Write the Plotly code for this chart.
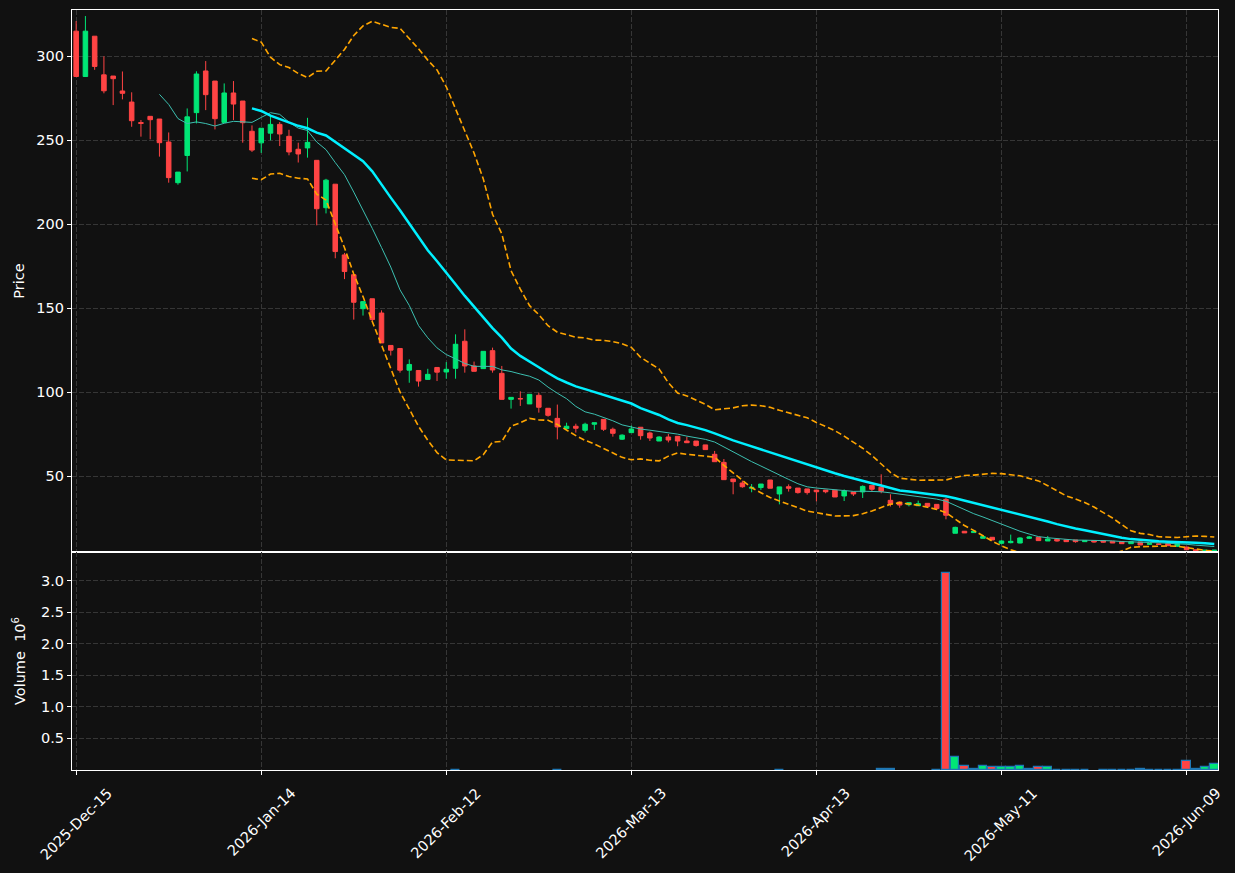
import plotly.graph_objects as go
import pandas as pd

# ---- data ----
opens = [315, 288, 312, 289, 288.3, 279.4, 272.8, 260.6, 264.3, 262.7,
         249, 224.8, 241, 266.5, 291.3, 285.3, 260.7, 278.2, 273.4, 255.4,
         248.5, 254.3, 259.5, 252.4, 244.7, 245.5, 238.1, 209.9, 223.9, 181.8,
         170, 149.8, 155.7, 147.2, 127.9, 126.1, 113.2, 113, 107.7, 114.8,
         112.1, 114.3, 130.4, 115.7, 114.1, 124.8, 111.3, 95.8, 96.3, 93.1,
         98.2, 90.5, 84.5, 78.4, 79.8, 77.4, 81, 83.9, 78, 72.1,
         76, 79.2, 75.8, 71, 73.4, 73.8, 71, 71, 68.7, 63.1,
         58.3, 48.4, 46, 42.9, 43.3, 47.8, 39.5, 43.8, 43, 42.5,
         41.8, 41.8, 41.7, 38.3, 40.7, 40.7, 44.6, 43.5, 35.7, 34.7,
         33.1, 32.5, 33.9, 33.3, 36.3, 16.1, 17.3, 16.5, 13.1, 13.7,
         10.1, 10.5, 10.3, 13.1, 13.7, 11.5, 12.5, 12.1, 12.1, 11.1,
         11.7, 11.7, 11.3, 11.1, 9.9, 10.9, 9.5, 9.8, 10.1, 8.3,
         7.9, 6.3, 5.0, 5.4]
highs = [321, 324, 312, 300, 288.3, 291, 278.6, 262.1, 264.3, 262.7,
         254.7, 231.1, 269, 291.1, 297.2, 285.3, 283.9, 285.3, 273.4, 258.9,
         257.2, 264.8, 260.9, 256.3, 248.6, 263.4, 238.1, 227.1, 223.9, 183,
         170, 154, 155.7, 148.8, 127.9, 126.1, 119.6, 113, 114, 114.8,
         118, 134.5, 137.5, 118.3, 124.4, 126.6, 115.7, 97, 100.6, 98.8,
         99.8, 90.5, 92.7, 81.9, 81.3, 81.9, 81.9, 83.9, 79, 75,
         80.2, 79.2, 76.6, 73.8, 75.2, 73.8, 73.6, 71, 68.7, 65.1,
         60.3, 48.4, 47.4, 45.4, 45.4, 47.8, 43.7, 45.2, 43, 42.5,
         41.8, 41.8, 41.7, 42.2, 40.7, 44.6, 44.6, 51.2, 39.3, 35.1,
         34.3, 35.5, 33.9, 33.3, 37.3, 20, 17.3, 17.3, 14.5, 13.7,
         11.9, 15.3, 13.7, 14.5, 13.7, 14.5, 12.5, 12.1, 12.1, 11.7,
         11.7, 11.7, 11.3, 11.1, 11.1, 10.9, 10.1, 9.9, 10.1, 9.9,
         7.9, 6.3, 6.1, 6.1]
lows = [288, 288, 292, 278, 271, 274.4, 258.1, 252.2, 250.6, 240.3,
        224.8, 223.6, 231.5, 260.1, 268, 256.5, 260.7, 262.1, 248.6, 243.1,
        242.5, 250, 246.6, 241.1, 236.8, 239.7, 199.4, 206.5, 179.8, 167.4,
        143.3, 145.7, 142.3, 129.4, 121.9, 111.7, 105.7, 103.4, 107.7, 106.7,
        108.1, 108.1, 111.7, 112.5, 114.1, 111.7, 95.8, 90.3, 91.9, 93.1,
        87.9, 85.5, 72, 78, 76, 76, 77.6, 77, 73.6, 71.6,
        76, 71.8, 71, 71, 70.2, 67.9, 69.8, 67.7, 65.9, 58.7,
        48, 39.3, 43.2, 40.5, 41.9, 42.9, 33.3, 40.9, 39.7, 39.1,
        35.1, 39.9, 37.7, 35.3, 38.3, 37.1, 40.7, 39.9, 32, 31.3,
        32.1, 32.5, 32.1, 30, 24.4, 16.1, 16.3, 16.5, 13.1, 12.1,
        9.5, 10.1, 10.1, 12.7, 11.7, 11.5, 11.1, 11.1, 10.5, 11.1,
        10.5, 10.5, 10.3, 9.9, 9.9, 9.1, 9.3, 9.2, 8.7, 8.3,
        6.3, 5.5, 4.9, 5.3]
closes = [288, 315, 294, 279.5, 286.7, 278, 261.7, 260.1, 262.3, 248.6,
          227.8, 231.1, 264, 289.5, 277.2, 262.9, 278.2, 271.6, 260.5, 244.2,
          257.2, 259.5, 253.8, 243.1, 241.9, 248.8, 209.3, 226.3, 183.8, 171.9,
          153.6, 154, 143.3, 129.4, 125.1, 113.2, 116.6, 106.7, 110.7, 112,
          113.7, 128.6, 115.7, 112.5, 124.4, 113.3, 95.8, 97, 96.1, 98.8,
          91.1, 86.3, 79.4, 79.8, 78.6, 81, 81.9, 78, 75.6, 74.5,
          78.2, 74.2, 72.8, 73.4, 71.6, 71, 70, 68.3, 65.9, 58.7,
          48, 46.8, 43.8, 43.4, 45.4, 42.9, 43.7, 42.9, 40.3, 40.3,
          40.8, 40.8, 37.7, 41.3, 39.5, 44, 42.3, 41.1, 33.7, 32.9,
          34.3, 33.7, 32.1, 30.8, 26.8, 19.6, 16.3, 17.3, 14.1, 12.1,
          11.5, 11.3, 13.3, 13.9, 11.7, 12.7, 11.5, 11.1, 11.1, 11.7,
          10.9, 10.8, 10.3, 9.9, 11.1, 9.1, 9.9, 9.4, 8.7, 9.9,
          6.3, 5.5, 6.1, 6.0]
# volume in millions (0 = no bar)
volumes = [0] * 41 + [0.004] + [0] * 10 + [0.004] + [0] * 23 + [0.004] + [0] * 10 + \
          [0.02, 0.02, 0, 0, 0, 0, 0.005, 3.12, 0.21, 0.07, 0.02, 0.07, 0.04,
           0.04, 0.05, 0.07, 0.02, 0.04, 0.05, 0.004, 0.004, 0.004, 0.004, 0,
           0.004, 0.004, 0.004, 0.004, 0.02, 0.004, 0.004, 0.004, 0.004,
           0.15, 0.02, 0.05, 0.10]
tick_index = [0, 20, 40, 60, 80, 100, 120]
tick_labels = ["2025-Dec-15", "2026-Jan-14", "2026-Feb-12", "2026-Mar-13",
               "2026-Apr-13", "2026-May-11", "2026-Jun-09"]

# ---- styles ----
BG = "#111111"
UP = "#00e676"
DOWN = "#ff4444"
GRID = "#363636"
TXT = "#ffffff"
FONT = "DejaVu Sans"
FS = 14.5

idx = list(range(len(closes)))
cs = pd.Series(closes, dtype=float)
ma10 = cs.rolling(10).mean()
ma20 = cs.rolling(20).mean()
sd20 = cs.rolling(20).std(ddof=0)
upper = ma20 + 2 * sd20
lower = ma20 - 2 * sd20

fig = go.Figure()
fig.add_trace(go.Candlestick(
    x=idx, open=opens, high=highs, low=lows, close=closes,
    increasing=dict(line=dict(color=UP, width=1), fillcolor=UP),
    decreasing=dict(line=dict(color=DOWN, width=1), fillcolor=DOWN),
    whiskerwidth=0, xaxis="x", yaxis="y", hoverinfo="skip"))
fig.add_trace(go.Scatter(x=idx, y=ma10, mode="lines",
                         line=dict(color="#3cbfb0", width=1), xaxis="x", yaxis="y"))
fig.add_trace(go.Scatter(x=idx, y=ma20, mode="lines",
                         line=dict(color="#00f0ff", width=2.5), xaxis="x", yaxis="y"))
fig.add_trace(go.Scatter(x=idx, y=upper, mode="lines",
                         line=dict(color="#ffa500", width=1.6, dash="6px,3px"), xaxis="x", yaxis="y"))
fig.add_trace(go.Scatter(x=idx, y=lower, mode="lines",
                         line=dict(color="#ffa500", width=1.6, dash="6px,3px"), xaxis="x", yaxis="y"))

vol_y = [v if v > 0 else None for v in volumes]
vol_col = [UP if c >= o else DOWN for o, c in zip(opens, closes)]
fig.add_trace(go.Bar(x=idx, y=vol_y, width=0.92,
                     marker=dict(color=vol_col, line=dict(color="#1f77b4", width=1.2)),
                     xaxis="x2", yaxis="y2"))

axis_common = dict(showgrid=True, gridcolor=GRID, griddash="5px,2px", gridwidth=1,
                   showline=True, mirror=True, linecolor="white", linewidth=1.2,
                   ticks="outside", ticklen=4, tickcolor="white", zeroline=False,
                   tickfont=dict(family=FONT, size=FS, color=TXT))
split = 218 / 760

fig.update_layout(
    width=1235, height=873,
    margin=dict(l=72, r=17, t=10, b=103),
    paper_bgcolor=BG, plot_bgcolor=BG, showlegend=False,
    font=dict(family=FONT, size=FS, color=TXT),
    xaxis=dict(domain=[0, 1], anchor="y", range=[-0.45, 123.4],
               tickvals=tick_index, showticklabels=False,
               rangeslider=dict(visible=False), **axis_common),
    yaxis=dict(domain=[split, 1], anchor="x", range=[4.94, 327.6],
               tickvals=[50, 100, 150, 200, 250, 300],
               title=dict(text="Price", font=dict(family=FONT, size=FS, color=TXT), standoff=8),
               **axis_common),
    xaxis2=dict(domain=[0, 1], anchor="y2", range=[-0.45, 123.4], matches="x",
                tickvals=tick_index, showticklabels=False,
                **axis_common),
    yaxis2=dict(domain=[0, split], anchor="x2", range=[0, 3.45],
                tickvals=[0.5, 1.0, 1.5, 2.0, 2.5, 3.0], tickformat=".1f",
                title=dict(text="Volume  10<sup>6</sup>", font=dict(family=FONT, size=FS, color=TXT), standoff=11),
                **axis_common),
    bargap=0,
)

# rotated date labels centred under their ticks
for pos, lab in zip(tick_index, tick_labels):
    fig.add_annotation(x=pos, xref="x2", y=0, yref="paper", text=lab,
                       textangle=-45, xanchor="center", yanchor="top",
                       yshift=-12, showarrow=False,
                       font=dict(family=FONT, size=FS, color=TXT))

fig.write_html("out.html")
